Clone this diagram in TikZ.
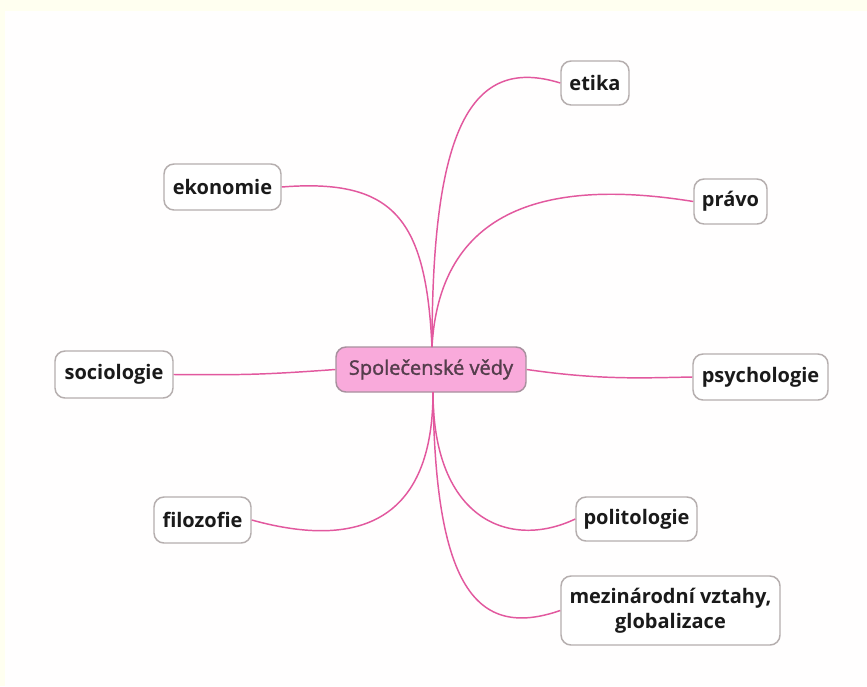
\documentclass[tikz,border=0pt]{standalone}
\usepackage{fontspec}
\setmainfont{Open Sans}
\newfontfamily\rootfont[FakeBold=1.6]{Open Sans}
\definecolor{bgcream}{HTML}{FFFFF0}
\definecolor{bgwhite}{HTML}{FFFEFE}
\definecolor{linkpink}{HTML}{E2589E}
\definecolor{boxgray}{HTML}{B5AEAE}
\definecolor{rootfill}{HTML}{F9AADB}
\definecolor{rootdraw}{HTML}{A8909E}
\definecolor{roottext}{HTML}{553D4C}
\definecolor{leaftext}{HTML}{1A1A1A}
\begin{document}
\begin{tikzpicture}[x=0.75pt,y=-0.75pt,
  leaf/.style={draw=boxgray,line width=1.1pt,fill=white,rounded corners=7.5pt,
    inner sep=0pt,align=center,font=\fontsize{15}{19}\selectfont\bfseries,text=leaftext},
  root/.style={draw=rootdraw,line width=1.1pt,fill=rootfill,rounded corners=7.5pt,
    inner sep=0pt,align=center,font=\fontsize{15}{19}\selectfont\rootfont,text=roottext},
  link/.style={draw=linkpink,line width=1.1pt}]
\fill[bgcream] (0,0) rectangle (867,686);
\fill[bgwhite] (5,11) rectangle (867,686);
\useasboundingbox (0,0) rectangle (867,686);

\node[root,minimum width=142.5pt,minimum height=33.75pt] (c) at (431,369.5) {Společenské vědy};
\node[leaf,minimum width=51pt,minimum height=33pt] (etika) at (595,83) {etika};
\node[leaf,minimum width=87.75pt,minimum height=34.5pt] (ekon) at (222.5,187) {ekonomie};
\node[leaf,minimum width=54.75pt,minimum height=33.75pt] (pravo) at (730.5,201.5) {právo};
\node[leaf,minimum width=88.5pt,minimum height=35.25pt] (soc) at (114,374.5) {sociologie};
\node[leaf,minimum width=101.25pt,minimum height=34.5pt] (psy) at (760.5,377) {psychologie};
\node[leaf,minimum width=72.75pt,minimum height=34.5pt] (filo) at (202.5,520) {filozofie};
\node[leaf,minimum width=90.75pt,minimum height=33pt] (poli) at (636.5,519) {politologie};
\node[leaf,minimum width=164.25pt,minimum height=51.75pt] (mez) at (670.5,610.5) {mezinárodní vztahy,\\globalizace};

\coordinate (ctop) at (432,347);
\coordinate (cbot) at (433,392);

\draw[link] (ctop) .. controls (432,130) and (470,55) .. (etika.west);
\draw[link] (ctop) .. controls (426,220) and (395,178) .. (ekon.east);
\draw[link] (ctop) .. controls (440,200) and (560,180) .. (pravo.west);
\draw[link] (c.west) .. controls (260,375) and (240,375) .. (soc.east);
\draw[link] (c.east) .. controls (600,380) and (640,378) .. (psy.west);
\draw[link] (cbot) .. controls (433,520) and (360,550) .. (filo.east);
\draw[link] (cbot) .. controls (433,520) and (510,550) .. (poli.west);
\draw[link] (cbot) .. controls (435,585) and (475,640) .. (mez.west);
\end{tikzpicture}
\end{document}
